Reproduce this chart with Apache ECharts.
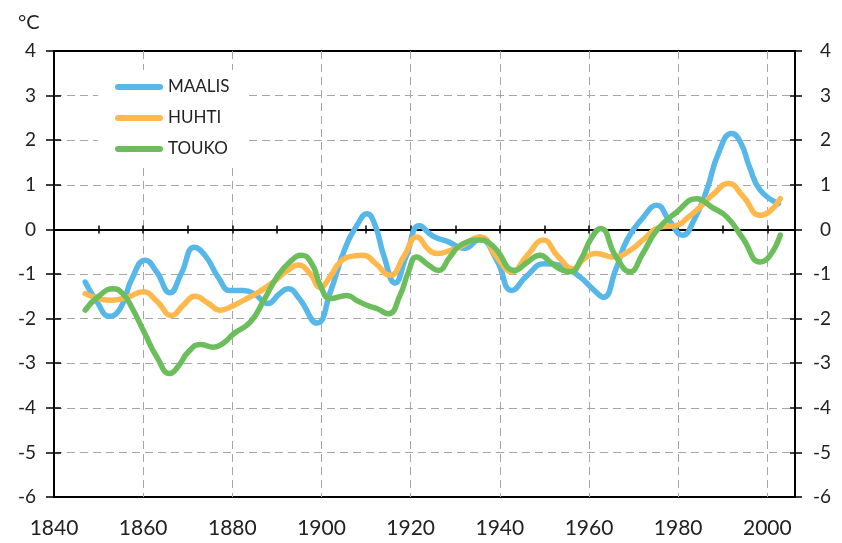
<!DOCTYPE html>
<html>
<head>
<meta charset="utf-8">
<script src="https://cdn.jsdelivr.net/npm/echarts@6/dist/echarts.min.js"></script>
<style>html,body{margin:0;padding:0;background:#fff}#c{width:842px;height:543px}</style>
</head>
<body>
<div id="c"></div>
<script>
var unitLabel = '°C';
var seriesNames = ['MAALIS', 'HUHTI', 'TOUKO'];
var xTickLabels = [1840, 1860, 1880, 1900, 1920, 1940, 1960, 1980, 2000];
var yTickLabels = [-6, -5, -4, -3, -2, -1, 0, 1, 2, 3, 4];

var maalis = [
  [1847,-1.18],[1849.5,-1.6],[1852.5,-1.95],[1855,-1.75],[1857.5,-1.1],[1860.5,-0.69],
  [1863,-0.95],[1866,-1.42],[1868.5,-1.0],[1871.5,-0.4],[1874,-0.6],[1877,-1.1],
  [1879.5,-1.37],[1882.5,-1.37],[1885,-1.45],[1888,-1.66],[1890.5,-1.45],[1892.5,-1.33],
  [1895,-1.55],[1899,-2.1],[1902,-1.4],[1905,-0.5],[1908,0.1],[1910.2,0.35],[1912,0.1],
  [1914,-0.6],[1916.5,-1.2],[1919,-0.6],[1922,0.08],[1925,-0.15],[1928.5,-0.28],
  [1932,-0.43],[1935.5,-0.22],[1939.3,-0.69],[1942.7,-1.37],[1946,-1.05],[1950,-0.77],
  [1953.5,-0.8],[1958,-1.07],[1961,-1.35],[1963.2,-1.52],[1966,-0.9],[1968.5,-0.24],
  [1972,0.25],[1975.2,0.54],[1978,0.2],[1981,-0.13],[1983.5,0.2],[1986.4,0.88],
  [1989,1.7],[1992,2.15],[1994,1.95],[1996,1.4],[1998.4,0.88],[2002.5,0.58]
];
var huhti = [
  [1847,-1.44],[1850,-1.55],[1853,-1.59],[1856.5,-1.52],[1860,-1.4],[1863,-1.6],
  [1866.4,-1.93],[1869,-1.7],[1871.6,-1.5],[1874.5,-1.65],[1877.3,-1.81],[1880,-1.72],
  [1882.5,-1.59],[1886,-1.4],[1889.2,-1.18],[1892,-0.95],[1894.8,-0.8],[1897.5,-1.0],
  [1899.7,-1.3],[1902,-1.05],[1904.2,-0.73],[1907,-0.6],[1909.4,-0.58],[1912,-0.75],
  [1915.4,-1.03],[1918.5,-0.6],[1921.4,-0.17],[1924,-0.45],[1926,-0.54],[1928.9,-0.47],
  [1931.1,-0.39],[1935.6,-0.17],[1939.3,-0.62],[1942.7,-0.95],[1946,-0.6],[1949.8,-0.24],
  [1953,-0.6],[1956.5,-0.88],[1959,-0.65],[1961.7,-0.54],[1965.4,-0.62],[1969.2,-0.47],
  [1972.5,-0.2],[1975.9,0.05],[1979.7,0.09],[1982,0.25],[1984.9,0.5],[1988,0.8],
  [1991.3,1.03],[1994.5,0.75],[1998.4,0.32],[2000.5,0.4],[2002.9,0.69]
];
var touko = [
  [1847,-1.81],[1850,-1.5],[1853.3,-1.33],[1855.5,-1.45],[1857.4,-1.74],[1860.4,-2.34],
  [1863,-2.85],[1866,-3.23],[1868,-3.05],[1870.1,-2.75],[1872.8,-2.58],[1875.8,-2.64],
  [1878,-2.55],[1880.3,-2.34],[1884,-2.08],[1887,-1.6],[1890,-1.07],[1893,-0.72],
  [1895.6,-0.58],[1898,-0.8],[1899.7,-1.25],[1902,-1.55],[1905.7,-1.48],[1908,-1.6],
  [1910.2,-1.7],[1912.5,-1.78],[1915,-1.89],[1917.6,-1.48],[1919.5,-0.95],[1921.3,-0.62],
  [1924,-0.8],[1926.2,-0.92],[1928.8,-0.62],[1931.1,-0.36],[1935.6,-0.24],[1938.6,-0.39],
  [1943.4,-0.92],[1946,-0.75],[1949,-0.58],[1951.5,-0.75],[1954.2,-0.92],[1956,-0.95],
  [1958.1,-0.69],[1960.5,-0.2],[1962.6,0.02],[1966,-0.6],[1969.2,-0.95],[1972,-0.55],
  [1975.2,-0.02],[1979.7,0.39],[1984.2,0.69],[1987.5,0.5],[1990.9,0.28],[1994.5,-0.2],
  [1998.4,-0.73],[2000.5,-0.6],[2002.9,-0.13]
];

var colors = ['#56B7E8', '#FFB84C', '#6CBE5C'];
var FONT = 'Lato';
var XMIN = 1840, XMAX = 2006.2, YMIN = -6, YMAX = 4;

function xBase(extra) {
  return Object.assign({
    type: 'value', min: XMIN, max: XMAX, gridIndex: 0,
    axisLabel: { show: false }, splitLine: { show: false }, axisTick: { show: false },
    axisLine: { show: false }
  }, extra);
}
function yBase(extra) {
  return Object.assign({
    type: 'value', min: YMIN, max: YMAX, interval: 1, gridIndex: 0,
    axisLabel: { show: false }, splitLine: { show: false },
    axisLine: { show: false, onZero: false }
  }, extra);
}

var chart = echarts.init(document.getElementById('c'), null, { renderer: 'canvas' });
chart.setOption({
  animation: false,
  backgroundColor: '#fff',
  title: {
    text: unitLabel, left: 13, top: 8,
    textStyle: { fontFamily: FONT, fontSize: 20, fontWeight: 'normal', color: '#222' }
  },
  grid: {
    left: 54, top: 51, width: 741, height: 446,
    show: true, borderColor: '#000', borderWidth: 2, backgroundColor: 'transparent'
  },
  legend: {
    orient: 'vertical', left: 98, top: 70,
    padding: [7, 19, 8, 17],
    backgroundColor: '#fff',
    itemWidth: 48, itemHeight: 6, itemGap: 11,
    icon: 'path://M3,0 L45,0 A3,3 0 0 1 45,6 L3,6 A3,3 0 0 1 3,0 Z',
    textStyle: { fontFamily: FONT, fontSize: 17, color: '#222', lineHeight: 20 },
    data: seriesNames
  },
  xAxis: [
    xBase({
      position: 'bottom', interval: 10,
      axisLine: { show: true, onZero: true, onZeroAxisIndex: 0, lineStyle: { color: '#000', width: 2 } },
      axisTick: { show: true, inside: false, length: 4, lineStyle: { color: '#000', width: 1.5 } }
    }),
    xBase({
      position: 'top', interval: 10,
      axisLine: { show: false, onZero: true, onZeroAxisIndex: 0 },
      axisTick: { show: true, inside: false, length: 4, lineStyle: { color: '#000', width: 1.5 } }
    }),
    xBase({
      position: 'bottom', interval: 20,
      axisLine: { show: false, onZero: false },
      axisLabel: {
        show: true, margin: 21, showMaxLabel: false, showMinLabel: true,
        fontFamily: FONT, fontSize: 21, color: '#222',
        formatter: function (v) { return xTickLabels.indexOf(v) >= 0 ? String(v) : ''; }
      },
      splitLine: { show: true, showMinLine: false, showMaxLine: false,
        lineStyle: { color: '#a6a6a6', width: 1, type: [8, 5] } }
    })
  ],
  yAxis: [
    yBase({
      position: 'left',
      axisTick: { show: true, inside: false, length: 8, lineStyle: { color: '#000', width: 1.5 } },
      axisLabel: {
        show: true, margin: 18, fontFamily: FONT, fontSize: 19, color: '#222',
        formatter: function (v) { return yTickLabels.indexOf(v) >= 0 ? String(v) : ''; }
      },
      splitLine: { show: true, showMinLine: false, showMaxLine: false,
        lineStyle: { color: '#a6a6a6', width: 1, type: [8, 5] } }
    }),
    yBase({
      position: 'left',
      axisTick: { show: true, inside: true, length: 7, lineStyle: { color: '#000', width: 1.5 } }
    }),
    yBase({
      position: 'right',
      axisTick: { show: true, inside: false, length: 7, lineStyle: { color: '#000', width: 1.5 } },
      axisLabel: {
        show: true, margin: 36, align: 'right', fontFamily: FONT, fontSize: 19, color: '#222',
        formatter: function (v) { return yTickLabels.indexOf(v) >= 0 ? String(v) : ''; }
      }
    }),
    yBase({
      position: 'right',
      axisTick: { show: true, inside: true, length: 5, lineStyle: { color: '#000', width: 1.5 } }
    })
  ],
  series: [maalis, huhti, touko].map(function (d, i) {
    return {
      name: seriesNames[i], type: 'line', xAxisIndex: 0, yAxisIndex: 0,
      data: d, smooth: 0.5, showSymbol: false, symbol: 'none',
      color: colors[i],
      lineStyle: { color: colors[i], width: 5.5, cap: 'round', join: 'round' },
      z: 3 + i
    };
  })
});
</script>
</body>
</html>
